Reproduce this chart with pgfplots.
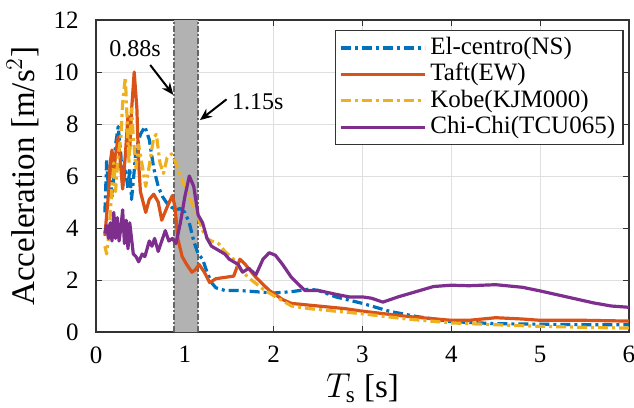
\documentclass[border=0pt]{standalone}
\usepackage{fontspec}
\setmainfont{Liberation Serif}
\usepackage{pgfplots}
\pgfplotsset{compat=1.18}
\usetikzlibrary{arrows.meta}

\definecolor{mblue}{rgb}{0,0.447,0.741}
\definecolor{morange}{rgb}{0.85,0.325,0.098}
\definecolor{myellow}{rgb}{0.929,0.694,0.125}
\definecolor{mpurple}{rgb}{0.494,0.184,0.556}
\definecolor{bandedge}{rgb}{0.4,0.4,0.4}

\begin{document}
\fontsize{16.5}{19}\selectfont
\begin{tikzpicture}
\begin{axis}[
  scale only axis,
  width=266.5pt, height=156pt,
  xmin=0, xmax=6, ymin=0, ymax=12,
  xtick={0,1,...,6}, ytick={0,2,...,12},
  /pgf/number format/assume math mode=true,
  tick label style={font=\fontsize{12.5}{14}\selectfont},
  xticklabel style={yshift=-1.5pt},
  yticklabel style={xshift=-3pt},
  tick align=inside,
  major tick length=3pt,
  xmajorgrids, ymajorgrids,
  grid style={gray!25, line width=0.5pt},
  axis line style={black!80, line width=0.6pt},
  tick style={black!80},
  xlabel={$T_{\smash{\mathrm{s}}}$ [s]},
  ylabel={Acceleration [m/s$^2$]},
  xlabel style={yshift=6pt},
  ylabel style={yshift=-4pt},
  legend style={at={(0.99,0.967)}, anchor=north east, draw=black!80,
    line width=0.6pt, inner xsep=2pt, inner ysep=1pt, row sep=-2pt,
    font=\fontsize{12.5}{14}\selectfont},
  legend cell align=left,
  legend image code/.code={\draw[#1] (0pt,0pt) -- (42pt,0pt);},
  every axis plot/.append style={line width=1.6pt, line join=round},
]
% shaded period band
\addplot[fill=gray!60, draw=none, forget plot] coordinates {(0.88,0)(1.15,0)(1.15,12)(0.88,12)} \closedcycle;
\addplot[bandedge, line width=1pt, dash pattern=on 3pt off 1pt on 1pt off 1pt, forget plot] coordinates {(0.88,0)(0.88,12)};
\addplot[bandedge, line width=1pt, dash pattern=on 3pt off 1pt on 1pt off 1pt, forget plot] coordinates {(1.15,0)(1.15,12)};

% El-centro (NS)
\addplot[mblue, dash pattern=on 5pt off 2pt on 1.5pt off 2pt] coordinates {
(0.10,4.6)(0.12,6.6)(0.14,5.5)(0.16,6.4)(0.18,5.2)(0.20,6.0)(0.22,7.2)(0.25,7.9)
(0.28,6.8)(0.30,5.6)(0.33,6.3)(0.36,5.5)(0.38,6.3)(0.40,5.1)(0.42,5.8)(0.45,7.0)
(0.50,7.6)(0.55,7.9)(0.60,7.4)(0.65,6.3)(0.70,5.6)(0.75,5.2)(0.80,4.95)(0.85,4.8)
(0.90,4.7)(0.95,4.75)(1.00,4.6)(1.05,4.2)(1.10,3.5)(1.15,3.0)(1.20,2.8)(1.25,2.3)
(1.30,1.9)(1.35,1.7)(1.45,1.6)(1.60,1.6)(1.80,1.55)(2.00,1.5)(2.20,1.55)(2.40,1.65)
(2.50,1.6)(2.70,1.35)(3.00,1.1)(3.30,0.8)(3.60,0.6)(4.00,0.4)(4.50,0.32)(5.00,0.3)
(5.50,0.28)(6.00,0.28)};
\addlegendentry{El-centro(NS)}

% Taft (EW)
\addplot[morange] coordinates {
(0.10,3.7)(0.12,4.5)(0.14,5.3)(0.16,6.5)(0.18,7.0)(0.20,6.2)(0.22,6.8)(0.25,7.5)
(0.28,6.3)(0.30,5.5)(0.33,6.8)(0.36,8.3)(0.38,7.0)(0.40,8.5)(0.43,10.0)(0.46,8.6)
(0.48,6.5)(0.50,5.4)(0.53,5.0)(0.56,4.6)(0.60,5.1)(0.65,5.3)(0.70,5.0)(0.74,4.3)
(0.80,4.8)(0.86,5.25)(0.89,4.8)(0.92,3.6)(0.97,2.9)(1.02,2.6)(1.08,2.3)(1.12,2.4)
(1.16,2.6)(1.22,2.3)(1.28,1.9)(1.35,2.05)(1.45,2.1)(1.55,2.15)(1.62,2.8)(1.68,2.6)
(1.80,2.1)(1.95,1.6)(2.10,1.25)(2.20,1.1)(2.50,1.0)(2.80,0.9)(3.00,0.8)(3.50,0.6)
(4.00,0.45)(4.20,0.45)(4.50,0.55)(4.80,0.5)(5.00,0.45)(5.50,0.45)(6.00,0.42)};
\addlegendentry{Taft(EW)}

% Kobe (KJM000)
\addplot[myellow, dash pattern=on 5pt off 2pt on 1.5pt off 2pt] coordinates {
(0.10,3.3)(0.12,3.0)(0.14,3.6)(0.16,4.5)(0.18,5.6)(0.20,6.5)(0.22,5.4)(0.25,6.8)
(0.28,7.5)(0.30,8.8)(0.33,9.8)(0.35,8.2)(0.37,6.5)(0.40,8.6)(0.42,7.5)(0.45,6.3)
(0.48,7.2)(0.52,6.4)(0.56,5.6)(0.60,6.4)(0.65,7.5)(0.68,7.6)(0.72,6.5)(0.76,6.1)
(0.80,6.7)(0.85,6.85)(0.90,6.5)(0.95,6.0)(1.00,5.6)(1.05,5.2)(1.10,4.8)(1.15,4.4)
(1.20,3.9)(1.25,3.6)(1.30,3.5)(1.38,3.4)(1.45,3.1)(1.55,2.8)(1.65,2.3)(1.75,2.0)
(1.90,1.6)(2.00,1.4)(2.20,1.0)(2.40,0.9)(2.70,0.8)(3.00,0.7)(3.50,0.5)(4.00,0.35)
(4.50,0.28)(5.00,0.22)(5.50,0.18)(6.00,0.15)};
\addlegendentry{Kobe(KJM000)}

% Chi-Chi (TCU065)
\addplot[mpurple] coordinates {
(0.10,3.8)(0.12,4.1)(0.14,3.6)(0.16,4.2)(0.18,3.5)(0.20,4.6)(0.22,3.6)(0.24,4.4)
(0.26,3.5)(0.28,4.0)(0.30,4.7)(0.32,3.4)(0.34,4.3)(0.36,3.2)(0.38,4.2)(0.40,3.6)
(0.42,3.0)(0.45,2.9)(0.48,2.7)(0.52,3.0)(0.55,2.9)(0.60,3.5)(0.63,3.3)(0.66,3.6)
(0.70,3.1)(0.74,3.5)(0.78,3.9)(0.82,3.5)(0.86,3.6)(0.90,3.4)(0.95,4.2)(1.00,5.2)
(1.05,6.0)(1.10,5.6)(1.15,4.5)(1.20,4.2)(1.25,3.6)(1.30,3.3)(1.35,3.2)(1.45,3.0)
(1.50,2.8)(1.60,2.6)(1.65,2.3)(1.72,2.45)(1.80,2.2)(1.88,2.8)(1.95,3.05)(2.02,2.95)
(2.10,2.6)(2.20,2.1)(2.35,1.6)(2.50,1.6)(2.70,1.45)(2.85,1.35)(3.00,1.35)(3.10,1.3)
(3.23,1.15)(3.40,1.35)(3.60,1.55)(3.80,1.75)(4.00,1.8)(4.20,1.78)(4.50,1.82)(4.80,1.72)
(5.00,1.58)(5.30,1.35)(5.60,1.12)(5.80,1.0)(6.00,0.95)};
\addlegendentry{Chi-Chi(TCU065)}

% annotations
\node[fill=white, inner sep=1pt, font=\fontsize{12}{14}\selectfont] at (axis cs:0.44,10.9) {0.88s};
\draw[-{Stealth[length=6pt,width=5pt]}, line width=1pt] (axis cs:0.61,10.27) -- (axis cs:0.87,9.12);
\node[inner sep=1pt, font=\fontsize{12}{14}\selectfont] at (axis cs:1.82,8.85) {1.15s};
\draw[-{Stealth[length=6pt,width=5pt]}, line width=1pt] (axis cs:1.47,8.95) -- (axis cs:1.17,8.15);
\end{axis}
% page frame cut as in the original figure
\pgfresetboundingbox
\path[use as bounding box] ([xshift=-48pt,yshift=-37.5pt]current axis.south west) rectangle ([xshift=2.5pt,yshift=10pt]current axis.north east);
\end{tikzpicture}
\end{document}
